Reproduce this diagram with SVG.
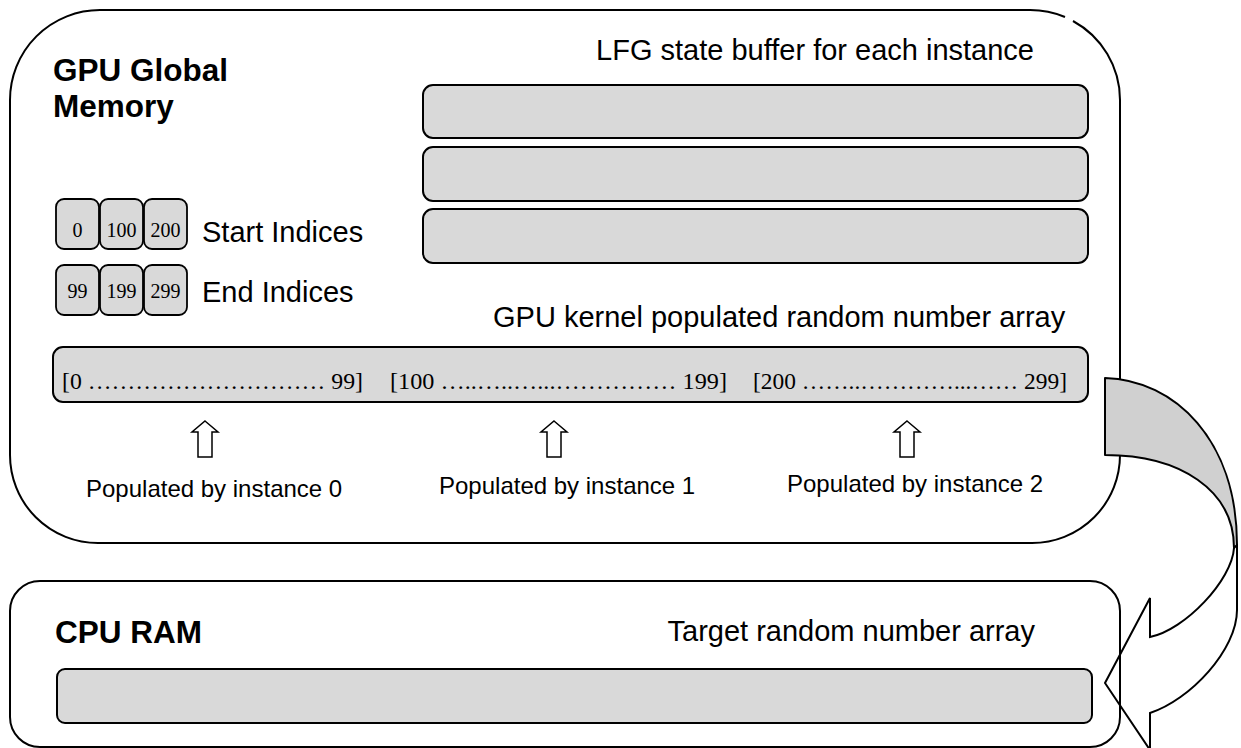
<svg xmlns="http://www.w3.org/2000/svg" width="1241" height="748" viewBox="0 0 1241 748">
<style>
.box{fill:none;stroke:#000;stroke-width:2}
.bar{fill:#d9d9d9;stroke:#000;stroke-width:2}
.cell{fill:#d9d9d9;stroke:#000;stroke-width:1.8}
.title{font-family:"Liberation Sans",Arial,sans-serif;font-weight:bold;font-size:31.5px;fill:#000}
.lbl{font-family:"Liberation Sans",Arial,sans-serif;font-size:29px;fill:#000}
.pop{font-family:"Liberation Sans",Arial,sans-serif;font-size:24px;fill:#000}
.num{font-family:"Liberation Serif","Times New Roman",serif;font-size:20px;fill:#000;text-anchor:middle}
.arr{font-family:"Liberation Serif","Times New Roman",serif;font-size:23px;fill:#000}
.up{fill:#fff;stroke:#000;stroke-width:1.5}
</style>
<rect width="1241" height="748" fill="#fff"/>
<g id="gpu-memory">
<path class="box" d="M1073,21 A90,90 0 0 1 1120,100 V455 A88,88 0 0 1 1032,543 H98 A88,88 0 0 1 10,455 V100 A90,90 0 0 1 100,10 H1030 A90,90 0 0 1 1065,17"/>
<text class="title" x="53" y="81">GPU Global</text>
<text class="title" x="53" y="117">Memory</text>
</g>
<g id="lfg-state">
<text class="lbl" x="1034" y="60" text-anchor="end" font-size="30">LFG state buffer for each instance</text>
<rect class="bar" x="423" y="85" width="665" height="53" rx="10"/>
<rect class="bar" x="423" y="147" width="665" height="54" rx="10"/>
<rect class="bar" x="423" y="209" width="665" height="54" rx="10"/>
</g>
<g id="start-indices">
<rect class="cell" x="56" y="199" width="43" height="50" rx="8"/>
<rect class="cell" x="100" y="199" width="43" height="50" rx="8"/>
<rect class="cell" x="144" y="199" width="43" height="50" rx="8"/>
<text class="num" x="77.5" y="237">0</text>
<text class="num" x="121.5" y="237">100</text>
<text class="num" x="165.5" y="237">200</text>
<text class="lbl" x="202" y="242">Start Indices</text>
</g>
<g id="end-indices">
<rect class="cell" x="56" y="265" width="43" height="50" rx="8"/>
<rect class="cell" x="100" y="265" width="43" height="50" rx="8"/>
<rect class="cell" x="144" y="265" width="43" height="50" rx="8"/>
<text class="num" x="77.5" y="298">99</text>
<text class="num" x="121.5" y="298">199</text>
<text class="num" x="165.5" y="298">299</text>
<text class="lbl" x="202" y="302">End Indices</text>
</g>
<g id="random-array">
<text class="lbl" x="493" y="327">GPU kernel populated random number array</text>
<rect class="bar" x="53" y="347" width="1035" height="55" rx="10"/>
<text class="arr" x="62" y="389" textLength="301" lengthAdjust="spacingAndGlyphs">[0 ………………………… 99]</text>
<text class="arr" x="390" y="389" textLength="337" lengthAdjust="spacingAndGlyphs">[100 …..…..…...…………… 199]</text>
<text class="arr" x="753" y="389" textLength="314" lengthAdjust="spacingAndGlyphs">[200 ……..…………...…… 299]</text>
</g>
<g id="instance-0">
<path class="up" d="M205,421 L218,432 L212,432 L212,457 L198,457 L198,432 L192,432 Z"/>
<text class="pop" x="86" y="497">Populated by instance 0</text>
</g>
<g id="instance-1">
<path class="up" d="M554,421 L567,432 L561,432 L561,457 L547,457 L547,432 L541,432 Z"/>
<text class="pop" x="439" y="494">Populated by instance 1</text>
</g>
<g id="instance-2">
<path class="up" d="M907,421 L920,432 L914,432 L914,457 L900,457 L900,432 L894,432 Z"/>
<text class="pop" x="787" y="492">Populated by instance 2</text>
</g>
<g id="cpu-ram">
<rect class="box" x="10" y="581" width="1110" height="166" rx="30"/>
<text class="title" x="55" y="643">CPU RAM</text>
<text class="lbl" x="1035" y="641" text-anchor="end">Target random number array</text>
<rect class="bar" x="57" y="669" width="1035" height="54" rx="8"/>
</g>
<g id="connectors">
<path d="M1105,378 C1175,380 1237,440 1237,545 L1234,548 C1234,490 1180,455 1105,455 Z" fill="#d0d0d0" stroke="#000" stroke-width="2" stroke-linejoin="round"/>
<path d="M1237,545 L1237,610 C1237,650 1190,700 1150,713 L1150,750 L1105,683 L1150,598 L1150,637 C1185,630 1232,580 1234,548" fill="none" stroke="#000" stroke-width="2" stroke-linejoin="miter"/>
</g>
</svg>
